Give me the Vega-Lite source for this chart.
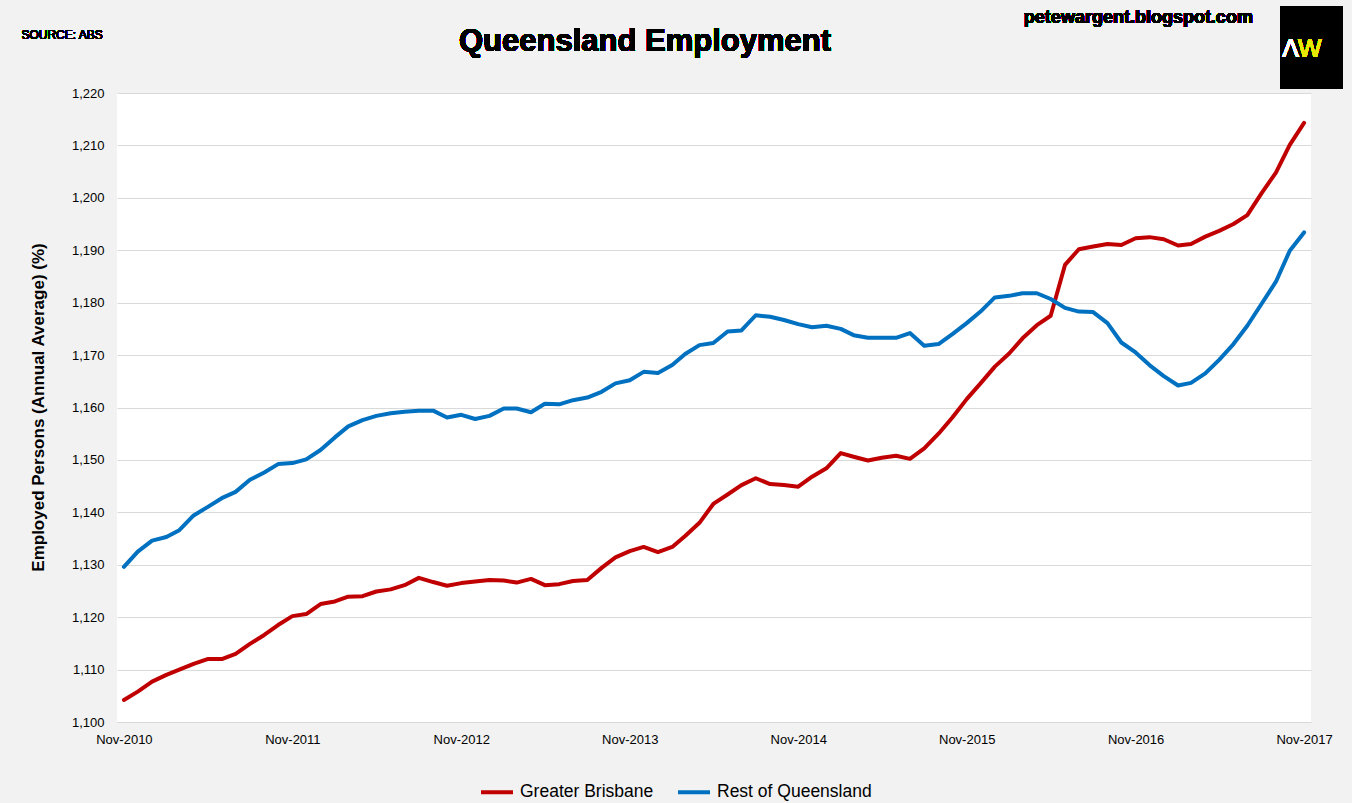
{
  "$schema": "https://vega.github.io/schema/vega-lite/v6.json",
  "width": 1194,
  "height": 629,
  "autosize": {"type": "none"},
  "padding": {"left": 117, "top": 93, "right": 41, "bottom": 81},
  "background": "#f2f2f2",
  "config": {
    "view": {"fill": "#ffffff", "stroke": null},
    "font": "Liberation Sans"
  },
  "data": {
    "values": [
      {"month": "2010-11-01", "Greater Brisbane": 1104.2, "Rest of Queensland": 1129.6},
      {"month": "2010-12-01", "Greater Brisbane": 1105.8, "Rest of Queensland": 1132.5},
      {"month": "2011-01-01", "Greater Brisbane": 1107.7, "Rest of Queensland": 1134.6},
      {"month": "2011-02-01", "Greater Brisbane": 1109.0, "Rest of Queensland": 1135.3},
      {"month": "2011-03-01", "Greater Brisbane": 1110.0, "Rest of Queensland": 1136.6},
      {"month": "2011-04-01", "Greater Brisbane": 1111.1, "Rest of Queensland": 1139.4},
      {"month": "2011-05-01", "Greater Brisbane": 1112.0, "Rest of Queensland": 1141.0},
      {"month": "2011-06-01", "Greater Brisbane": 1112.0, "Rest of Queensland": 1142.7},
      {"month": "2011-07-01", "Greater Brisbane": 1113.0, "Rest of Queensland": 1143.9},
      {"month": "2011-08-01", "Greater Brisbane": 1114.9, "Rest of Queensland": 1146.2},
      {"month": "2011-09-01", "Greater Brisbane": 1116.6, "Rest of Queensland": 1147.6},
      {"month": "2011-10-01", "Greater Brisbane": 1118.5, "Rest of Queensland": 1149.2},
      {"month": "2011-11-01", "Greater Brisbane": 1120.2, "Rest of Queensland": 1149.4},
      {"month": "2011-12-01", "Greater Brisbane": 1120.6, "Rest of Queensland": 1150.1},
      {"month": "2012-01-01", "Greater Brisbane": 1122.5, "Rest of Queensland": 1151.9},
      {"month": "2012-02-01", "Greater Brisbane": 1123.0, "Rest of Queensland": 1154.3},
      {"month": "2012-03-01", "Greater Brisbane": 1123.9, "Rest of Queensland": 1156.4},
      {"month": "2012-04-01", "Greater Brisbane": 1124.0, "Rest of Queensland": 1157.6},
      {"month": "2012-05-01", "Greater Brisbane": 1124.9, "Rest of Queensland": 1158.4},
      {"month": "2012-06-01", "Greater Brisbane": 1125.3, "Rest of Queensland": 1158.9},
      {"month": "2012-07-01", "Greater Brisbane": 1126.1, "Rest of Queensland": 1159.2},
      {"month": "2012-08-01", "Greater Brisbane": 1127.5, "Rest of Queensland": 1159.4},
      {"month": "2012-09-01", "Greater Brisbane": 1126.7, "Rest of Queensland": 1159.4},
      {"month": "2012-10-01", "Greater Brisbane": 1126.0, "Rest of Queensland": 1158.1},
      {"month": "2012-11-01", "Greater Brisbane": 1126.5, "Rest of Queensland": 1158.6},
      {"month": "2012-12-01", "Greater Brisbane": 1126.8, "Rest of Queensland": 1157.8},
      {"month": "2013-01-01", "Greater Brisbane": 1127.1, "Rest of Queensland": 1158.4},
      {"month": "2013-02-01", "Greater Brisbane": 1127.0, "Rest of Queensland": 1159.8},
      {"month": "2013-03-01", "Greater Brisbane": 1126.6, "Rest of Queensland": 1159.8},
      {"month": "2013-04-01", "Greater Brisbane": 1127.3, "Rest of Queensland": 1159.1},
      {"month": "2013-05-01", "Greater Brisbane": 1126.1, "Rest of Queensland": 1160.7},
      {"month": "2013-06-01", "Greater Brisbane": 1126.3, "Rest of Queensland": 1160.6},
      {"month": "2013-07-01", "Greater Brisbane": 1126.9, "Rest of Queensland": 1161.4},
      {"month": "2013-08-01", "Greater Brisbane": 1127.1, "Rest of Queensland": 1161.9},
      {"month": "2013-09-01", "Greater Brisbane": 1129.4, "Rest of Queensland": 1163.0},
      {"month": "2013-10-01", "Greater Brisbane": 1131.4, "Rest of Queensland": 1164.6},
      {"month": "2013-11-01", "Greater Brisbane": 1132.6, "Rest of Queensland": 1165.2},
      {"month": "2013-12-01", "Greater Brisbane": 1133.4, "Rest of Queensland": 1166.8},
      {"month": "2014-01-01", "Greater Brisbane": 1132.4, "Rest of Queensland": 1166.6},
      {"month": "2014-02-01", "Greater Brisbane": 1133.4, "Rest of Queensland": 1168.1},
      {"month": "2014-03-01", "Greater Brisbane": 1135.5, "Rest of Queensland": 1170.2},
      {"month": "2014-04-01", "Greater Brisbane": 1138.0, "Rest of Queensland": 1171.9},
      {"month": "2014-05-01", "Greater Brisbane": 1141.6, "Rest of Queensland": 1172.3},
      {"month": "2014-06-01", "Greater Brisbane": 1143.4, "Rest of Queensland": 1174.5},
      {"month": "2014-07-01", "Greater Brisbane": 1145.2, "Rest of Queensland": 1174.7},
      {"month": "2014-08-01", "Greater Brisbane": 1146.5, "Rest of Queensland": 1177.6},
      {"month": "2014-09-01", "Greater Brisbane": 1145.4, "Rest of Queensland": 1177.3},
      {"month": "2014-10-01", "Greater Brisbane": 1145.2, "Rest of Queensland": 1176.7},
      {"month": "2014-11-01", "Greater Brisbane": 1144.9, "Rest of Queensland": 1175.9},
      {"month": "2014-12-01", "Greater Brisbane": 1146.8, "Rest of Queensland": 1175.3},
      {"month": "2015-01-01", "Greater Brisbane": 1148.4, "Rest of Queensland": 1175.6},
      {"month": "2015-02-01", "Greater Brisbane": 1151.3, "Rest of Queensland": 1175.0},
      {"month": "2015-03-01", "Greater Brisbane": 1150.6, "Rest of Queensland": 1173.8},
      {"month": "2015-04-01", "Greater Brisbane": 1149.9, "Rest of Queensland": 1173.3},
      {"month": "2015-05-01", "Greater Brisbane": 1150.4, "Rest of Queensland": 1173.3},
      {"month": "2015-06-01", "Greater Brisbane": 1150.8, "Rest of Queensland": 1173.3},
      {"month": "2015-07-01", "Greater Brisbane": 1150.2, "Rest of Queensland": 1174.2},
      {"month": "2015-08-01", "Greater Brisbane": 1152.2, "Rest of Queensland": 1171.8},
      {"month": "2015-09-01", "Greater Brisbane": 1155.0, "Rest of Queensland": 1172.1},
      {"month": "2015-10-01", "Greater Brisbane": 1158.1, "Rest of Queensland": 1174.0},
      {"month": "2015-11-01", "Greater Brisbane": 1161.6, "Rest of Queensland": 1176.1},
      {"month": "2015-12-01", "Greater Brisbane": 1164.6, "Rest of Queensland": 1178.3},
      {"month": "2016-01-01", "Greater Brisbane": 1167.8, "Rest of Queensland": 1181.0},
      {"month": "2016-02-01", "Greater Brisbane": 1170.3, "Rest of Queensland": 1181.3},
      {"month": "2016-03-01", "Greater Brisbane": 1173.2, "Rest of Queensland": 1181.8},
      {"month": "2016-04-01", "Greater Brisbane": 1175.7, "Rest of Queensland": 1181.8},
      {"month": "2016-05-01", "Greater Brisbane": 1177.5, "Rest of Queensland": 1180.7},
      {"month": "2016-06-01", "Greater Brisbane": 1187.2, "Rest of Queensland": 1179.0},
      {"month": "2016-07-01", "Greater Brisbane": 1190.2, "Rest of Queensland": 1178.3},
      {"month": "2016-08-01", "Greater Brisbane": 1190.7, "Rest of Queensland": 1178.2},
      {"month": "2016-09-01", "Greater Brisbane": 1191.2, "Rest of Queensland": 1176.1},
      {"month": "2016-10-01", "Greater Brisbane": 1191.0, "Rest of Queensland": 1172.4},
      {"month": "2016-11-01", "Greater Brisbane": 1192.3, "Rest of Queensland": 1170.5},
      {"month": "2016-12-01", "Greater Brisbane": 1192.5, "Rest of Queensland": 1168.1},
      {"month": "2017-01-01", "Greater Brisbane": 1192.1, "Rest of Queensland": 1166.0},
      {"month": "2017-02-01", "Greater Brisbane": 1190.9, "Rest of Queensland": 1164.2},
      {"month": "2017-03-01", "Greater Brisbane": 1191.2, "Rest of Queensland": 1164.7},
      {"month": "2017-04-01", "Greater Brisbane": 1192.6, "Rest of Queensland": 1166.5},
      {"month": "2017-05-01", "Greater Brisbane": 1193.7, "Rest of Queensland": 1169.1},
      {"month": "2017-06-01", "Greater Brisbane": 1195.0, "Rest of Queensland": 1172.1},
      {"month": "2017-07-01", "Greater Brisbane": 1196.7, "Rest of Queensland": 1175.6},
      {"month": "2017-08-01", "Greater Brisbane": 1200.9, "Rest of Queensland": 1179.8},
      {"month": "2017-09-01", "Greater Brisbane": 1204.8, "Rest of Queensland": 1184.0},
      {"month": "2017-10-01", "Greater Brisbane": 1210.1, "Rest of Queensland": 1189.9},
      {"month": "2017-11-01", "Greater Brisbane": 1214.3, "Rest of Queensland": 1193.4}
    ]
  },
  "layer": [
    {
      "transform": [{"fold": ["Greater Brisbane", "Rest of Queensland"], "as": ["series", "value"]}],
      "mark": {"type": "line", "strokeWidth": 4, "strokeJoin": "round", "strokeCap": "round"},
      "encoding": {
        "x": {
          "field": "month",
          "type": "temporal",
          "scale": {
            "type": "utc",
            "domain": [
              {"year": 2010, "month": 10, "date": 17, "utc": true},
              {"year": 2017, "month": 11, "date": 16, "utc": true}
            ]
          },
          "axis": {
            "title": null,
            "labelExpr": "utcFormat(datum.value, '%b-%Y')",
            "values": [
              {"year": 2010, "month": 11, "date": 1, "utc": true},
              {"year": 2011, "month": 11, "date": 1, "utc": true},
              {"year": 2012, "month": 11, "date": 1, "utc": true},
              {"year": 2013, "month": 11, "date": 1, "utc": true},
              {"year": 2014, "month": 11, "date": 1, "utc": true},
              {"year": 2015, "month": 11, "date": 1, "utc": true},
              {"year": 2016, "month": 11, "date": 1, "utc": true},
              {"year": 2017, "month": 11, "date": 1, "utc": true}
            ],
            "ticks": false,
            "grid": false,
            "domainColor": "#d9d9d9",
            "labelFont": "Liberation Sans",
            "labelFontSize": 13,
            "labelColor": "#000000",
            "labelPadding": 11,
            "labelFlush": false,
            "labelOverlap": false
          }
        },
        "y": {
          "field": "value",
          "type": "quantitative",
          "scale": {"domain": [1100, 1220], "zero": false, "nice": false},
          "axis": {
            "title": "Employed Persons (Annual Average) (%)",
            "values": [1100, 1110, 1120, 1130, 1140, 1150, 1160, 1170, 1180, 1190, 1200, 1210, 1220],
            "format": ",d",
            "ticks": false,
            "domain": false,
            "gridColor": "#d9d9d9",
            "gridWidth": 1,
            "labelFont": "Liberation Sans",
            "labelFontSize": 13,
            "labelColor": "#000000",
            "labelPadding": 13,
            "titleFont": "Liberation Sans",
            "titleFontSize": 17,
            "titleFontWeight": "bold",
            "titleColor": "#000000",
            "titleX": -79,
            "titleY": 314,
            "titleAngle": 270,
            "titleAlign": "center",
            "titleBaseline": "middle"
          }
        },
        "color": {
          "field": "series",
          "type": "nominal",
          "scale": {"domain": ["Greater Brisbane", "Rest of Queensland"], "range": ["#c00000", "#0070c0"]},
          "legend": {
            "title": null,
            "orient": "none",
            "direction": "horizontal",
            "legendX": 362,
            "legendY": 681,
            "symbolType": "stroke",
            "symbolSize": 1024,
            "symbolStrokeWidth": 4,
            "labelFont": "Liberation Sans",
            "labelFontSize": 17.5,
            "labelColor": "#000000",
            "labelOffset": 5,
            "labelLimit": 0,
            "columnPadding": 16
          }
        }
      }
    },
    {
      "mark": {"type": "text", "align": "center", "baseline": "middle", "font": "Liberation Sans", "fontSize": 31, "fontWeight": "bold", "color": "#000000"},
      "encoding": {
        "x": {"datum": {"year": 2013, "month": 12, "date": 4, "utc": true}, "type": "temporal"},
        "y": {"datum": 1229.7, "type": "quantitative"},
        "text": {"value": "Queensland Employment"}
      }
    },
    {
      "mark": {"type": "text", "align": "center", "baseline": "middle", "font": "Liberation Sans", "fontSize": 12, "color": "#000000"},
      "encoding": {
        "x": {"datum": {"year": 2010, "month": 6, "date": 20, "utc": true}, "type": "temporal"},
        "y": {"datum": 1231.07, "type": "quantitative"},
        "text": {"value": "SOURCE: ABS"}
      }
    },
    {
      "mark": {"type": "text", "align": "center", "baseline": "middle", "font": "Liberation Sans", "fontSize": 18, "fontWeight": "bold", "color": "#000000"},
      "encoding": {
        "x": {"datum": {"year": 2016, "month": 11, "date": 7, "utc": true}, "type": "temporal"},
        "y": {"datum": 1234.3, "type": "quantitative"},
        "text": {"value": "petewargent.blogspot.com"}
      }
    },
    {
      "mark": {"type": "rect", "color": "#000000"},
      "encoding": {
        "x": {"datum": {"year": 2017, "month": 9, "date": 10, "utc": true}, "type": "temporal"},
        "x2": {"datum": {"year": 2018, "month": 1, "date": 24, "utc": true}},
        "y": {"datum": 1236.6, "type": "quantitative"},
        "y2": {"datum": 1220.76}
      }
    },
    {
      "mark": {"type": "text", "align": "right", "baseline": "middle", "font": "Liberation Sans", "fontSize": 25, "color": "#ffffff"},
      "encoding": {
        "x": {"datum": {"year": 2017, "month": 10, "date": 21, "utc": true}, "type": "temporal"},
        "y": {"datum": 1228.4, "type": "quantitative"},
        "text": {"value": "Λ"}
      }
    },
    {
      "mark": {"type": "text", "align": "left", "baseline": "middle", "font": "Liberation Sans", "fontSize": 25, "color": "#e8e800"},
      "encoding": {
        "x": {"datum": {"year": 2017, "month": 10, "date": 19, "utc": true}, "type": "temporal"},
        "y": {"datum": 1228.4, "type": "quantitative"},
        "text": {"value": "W"}
      }
    }
  ]
}
